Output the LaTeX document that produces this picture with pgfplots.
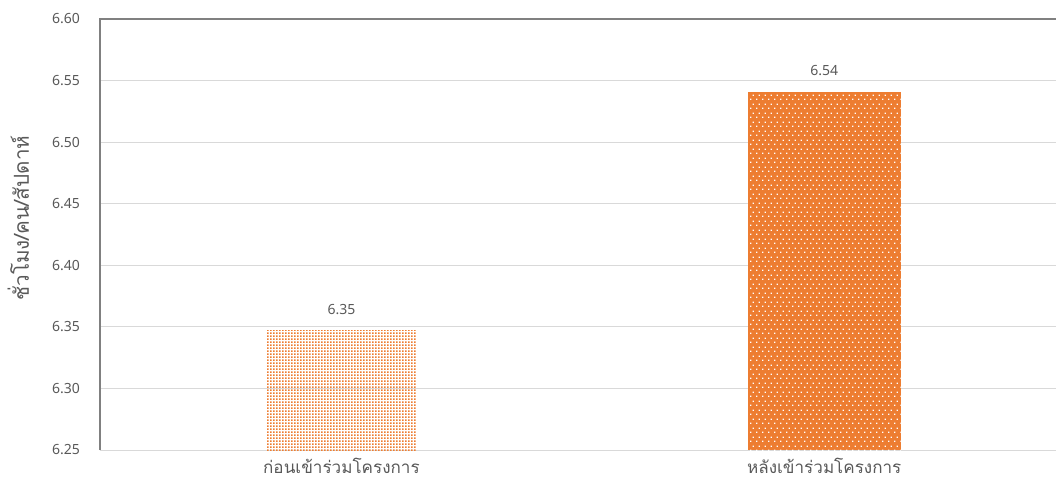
\documentclass[border=0pt]{standalone}
\usepackage{pgfplots}
\pgfplotsset{compat=1.18}
\usetikzlibrary{patterns.meta}
\usepackage{fontspec}
\setmainfont{Noto Sans}
\newfontfamily\thaifont[Script=Thai]{Loma}

\definecolor{barorange}{HTML}{ED7D31}
\definecolor{txtgray}{HTML}{595959}
\definecolor{gridgray}{HTML}{D9D9D9}
\definecolor{axgray}{HTML}{808080}

% dense orange dots on white (before)
\tikzdeclarepattern{
  name=densedots,
  bounding box={(0,0) and (2.25pt,2.25pt)},
  tile size={(2.25pt,2.25pt)},
  code={\fill (0,0) rectangle (1.6pt,1.6pt);}
}
% sparse staggered dots (after, drawn white on orange)
\tikzdeclarepattern{
  name=sparsedots,
  bounding box={(0,0) and (4.5pt,6.8pt)},
  tile size={(4.5pt,6.8pt)},
  code={\fill (0,0) rectangle (1.1pt,1.1pt);
        \fill (2.25pt,3.4pt) rectangle (3.35pt,4.5pt);}
}

\begin{document}
\begin{tikzpicture}
\useasboundingbox (0,0) rectangle (792pt,372pt);
\begin{axis}[
    at={(75pt,34.5pt)}, anchor=south west,
    scale only axis,
    width=717pt, height=323.25pt,
    xmin=-0.5, xmax=1.48,
    ymin=6.25, ymax=6.60,
    ytick distance=0.05,
    xtick={0,1},
    xticklabels={{\thaifont ก่อนเข้าร่วมโครงการ},{\thaifont หลังเข้าร่วมโครงการ}},
    yticklabel style={/pgf/number format/fixed, /pgf/number format/fixed zerofill,
        /pgf/number format/precision=2, /pgf/number format/assume math mode=true,
        font=\fontsize{10.5}{12}\selectfont, text=txtgray, xshift=-11.5pt},
    xticklabel style={font=\fontsize{12.8}{15}\selectfont, text=txtgray, yshift=-2.5pt},
    major tick length=0pt,
    ymajorgrids=true,
    grid style={draw=gridgray, line width=0.75pt},
    axis line style={draw=none},
    clip mode=individual,
    ylabel={\thaifont ชั่วโมง/คน/สัปดาห์},
    ylabel style={at={(axis description cs:-0.0855,0.538)}, anchor=center,
        font=\fontsize{15.5}{18}\selectfont, text=txtgray},
    nodes near coords,
    nodes near coords style={/pgf/number format/fixed, /pgf/number format/fixed zerofill,
        /pgf/number format/precision=2, /pgf/number format/assume math mode=true,
        font=\fontsize{10.5}{12}\selectfont, text=txtgray, yshift=8.5pt},
]
\addplot[ybar, bar width=0.312, bar shift=0pt, draw=none,
    pattern=densedots, pattern color=barorange]
    coordinates {(0,6.347)};
\addplot[ybar, bar width=0.316, bar shift=0pt, draw=none,
    fill=barorange, postaction={pattern=sparsedots, pattern color=white}]
    coordinates {(1,6.541)};
\draw[axgray, line width=1.5pt] (rel axis cs:0,0) -- (rel axis cs:0,1) -- (rel axis cs:1,1);
\end{axis}
\end{tikzpicture}
\end{document}
